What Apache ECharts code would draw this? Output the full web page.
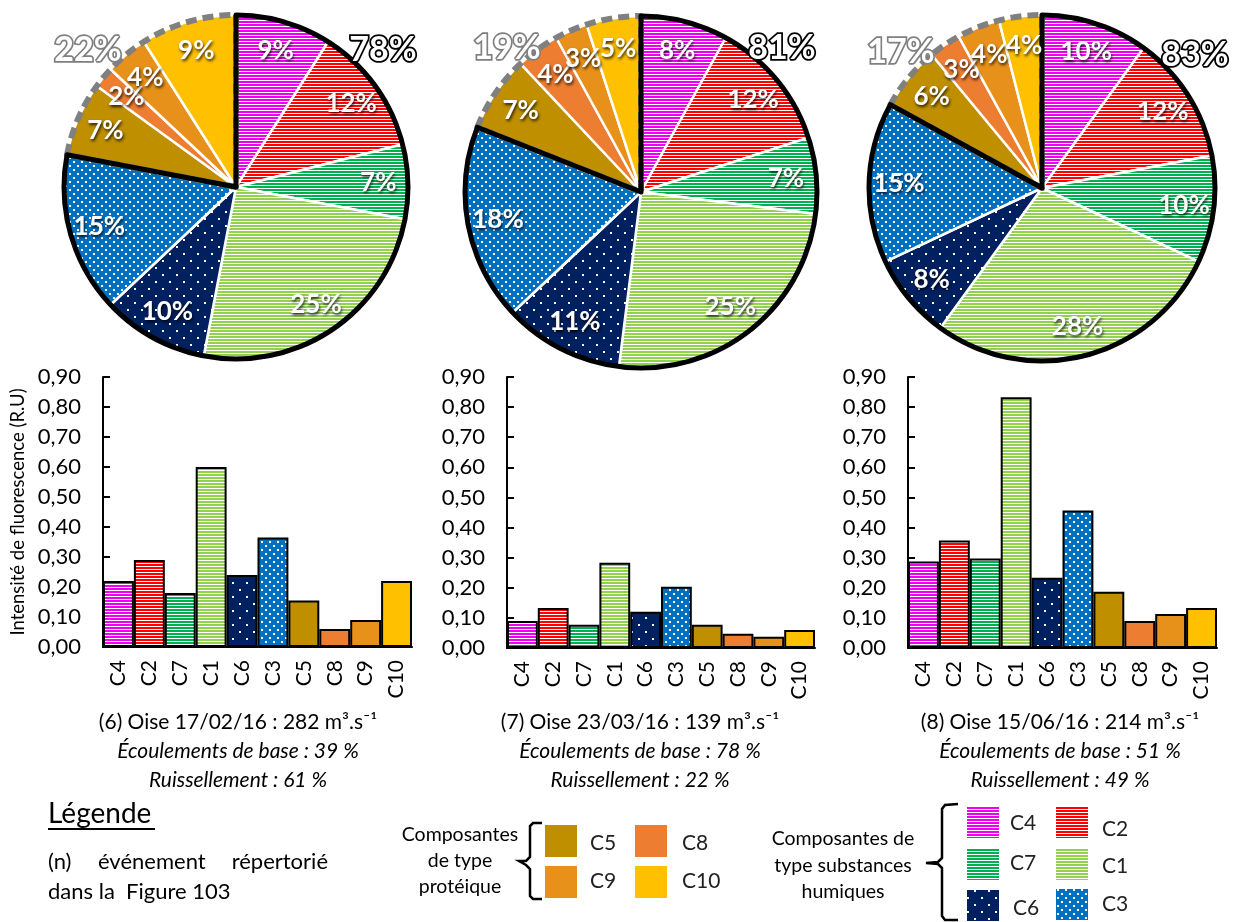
<!DOCTYPE html>
<html><head><meta charset="utf-8">
<script src="https://cdn.jsdelivr.net/npm/echarts@6/dist/echarts.min.js"></script>
<style>html,body{margin:0;padding:0;background:#fff}#c{width:1234px;height:922px}</style>
</head><body><div id="c"></div>
<script>
// ---------- DATA ----------
const components = ['C4','C2','C7','C1','C6','C3','C5','C8','C9','C10'];
const humicCount = 6; // first 6 = humic-type, last 4 = protein-type
const pie6 = [9,12,7,25,10,15,7,2,4,9];
const pie7 = [8,12,7,25,11,18,7,4,3,5];
const pie8 = [10,12,10,28,8,15,6,3,4,4];
const bar6 = [0.22,0.29,0.18,0.60,0.24,0.365,0.155,0.06,0.09,0.22];
const bar7 = [0.09,0.133,0.077,0.283,0.12,0.203,0.077,0.047,0.037,0.06];
const bar8 = [0.287,0.357,0.297,0.833,0.233,0.457,0.187,0.09,0.113,0.133];
const humicTotals = ['78%','81%','83%'];
const proteinTotals = ['22%','19%','17%'];
const yMin = 0, yMax = 0.9, yStep = 0.1;
const yTitle = 'Intensité de fluorescence (R.U)';
const captionTitles = ['(6) Oise 17/02/16 : 282 m³.s⁻¹','(7) Oise 23/03/16 : 139 m³.s⁻¹','(8) Oise 15/06/16 : 214 m³.s⁻¹'];
const captionBase = ['Écoulements de base : 39 %','Écoulements de base : 78 %','Écoulements de base : 51 %'];
const captionRuis = ['Ruissellement : 61 %','Ruissellement : 22 %','Ruissellement : 49 %'];

// ---------- STYLES ----------
const baseColors = {C4:'#f000f0',C2:'#ff0000',C7:'#00b050',C1:'#92d050',C6:'#002060',C3:'#0070c0',C5:'#bf8f00',C8:'#ed7d31',C9:'#e8911a',C10:'#ffc000'};
function stripes(color){
  const c=document.createElement('canvas'); c.width=4; c.height=3;
  const g=c.getContext('2d'); g.fillStyle='#fff'; g.fillRect(0,0,4,3);
  g.fillStyle=color; g.fillRect(0,0,4,2);
  return {image:c, repeat:'repeat'};
}
function dots(color, s, d){
  const c=document.createElement('canvas'); c.width=2*s; c.height=2*s;
  const g=c.getContext('2d'); g.fillStyle=color; g.fillRect(0,0,2*s,2*s);
  g.fillStyle='#fff'; g.fillRect(1,1,d,d); g.fillRect(s+1,s+1,d,d);
  return {image:c, repeat:'repeat'};
}
const fills = {
  C4:stripes(baseColors.C4), C2:stripes(baseColors.C2), C7:stripes(baseColors.C7), C1:stripes(baseColors.C1),
  C6:dots(baseColors.C6,7,2), C3:dots(baseColors.C3,4,2),
  C5:baseColors.C5, C8:baseColors.C8, C9:baseColors.C9, C10:baseColors.C10
};
const FONT='Lato';

const pies = [
  {vals:pie6, center:[236,187], r:172},
  {vals:pie7, center:[641,192], r:176},
  {vals:pie8, center:[1042,188], r:173}
];
const grids = [
  {left:103, top:377, width:309, height:270},
  {left:507, top:377, width:308, height:271},
  {left:908, top:377, width:309, height:271}
];
const bars = [bar6, bar7, bar8];

const series = [];
pies.forEach((p)=>{
  const humic = p.vals.slice(0,humicCount).reduce((a,b)=>a+b,0);
  const prot = p.vals.slice(humicCount).reduce((a,b)=>a+b,0);
  const common = {type:'pie', center:p.center, startAngle:90, clockwise:true, silent:true, avoidLabelOverlap:false,
    labelLine:{show:false}, emphasis:{disabled:true}, labelLayout:{hideOverlap:false}, minShowLabelAngle:0};
  series.push(Object.assign({}, common, {
    radius:p.r, z:2,
    data:p.vals.map((v,i)=>({name:components[i], value:v, itemStyle:{color:fills[components[i]]}})),
    itemStyle:{borderColor:'#fff', borderWidth:2.5},
    label:{show:false}
  }));
  series.push(Object.assign({}, common, {
    radius:p.r, z:3, label:{show:false},
    data:[{value:humic, itemStyle:{color:'rgba(0,0,0,0)', borderWidth:0}},
          {value:prot, itemStyle:{color:'rgba(0,0,0,0)', borderColor:'#808080', borderWidth:6, borderType:[11,6]}}]
  }));
  series.push(Object.assign({}, common, {
    radius:p.r, z:4, label:{show:false},
    data:[{value:humic, itemStyle:{color:'rgba(0,0,0,0)', borderColor:'#000', borderWidth:5}},
          {value:prot, itemStyle:{color:'rgba(0,0,0,0)', borderWidth:0}}]
  }));
  series.push(Object.assign({}, common, {
    radius:[0, p.r*1.62], z:5,
    itemStyle:{color:'rgba(0,0,0,0)', borderWidth:0},
    data:p.vals.map((v,i)=>({name:components[i], value:v})),
    label:{show:true, position:'inside', formatter:(pp)=>pp.value+'%', color:'#fff', fontFamily:FONT, fontWeight:'bold', fontSize:26,
      textShadowColor:'rgba(0,0,0,0.8)', textShadowBlur:3, textShadowOffsetX:1, textShadowOffsetY:2}
  }));
});

const xAxis=[], yAxis=[];
grids.forEach((g,i)=>{
  xAxis.push({type:'category', gridIndex:i, data:components,
    axisLine:{lineStyle:{color:'#000', width:2}}, axisTick:{show:false},
    axisLabel:{rotate:90, fontSize:21, color:'#000', fontFamily:FONT, margin:13}});
  yAxis.push({type:'value', gridIndex:i, min:yMin, max:yMax, interval:yStep,
    name: i===0 ? yTitle : '', nameLocation:'middle', nameGap:75,
    nameTextStyle:{fontSize:18.5, color:'#000', fontFamily:FONT},
    axisLine:{show:true, lineStyle:{color:'#000', width:2}},
    axisTick:{show:true, inside:true, length:7, lineStyle:{color:'#000', width:2}},
    splitLine:{show:false},
    axisLabel:{fontSize:22, color:'#000', fontFamily:FONT, margin:22, formatter:(v)=>v.toFixed(2).replace('.',',')}});
  series.push({type:'bar', xAxisIndex:i, yAxisIndex:i, barCategoryGap:'0%', silent:true,
    itemStyle:{borderColor:'#000', borderWidth:2},
    data:bars[i].map((v,j)=>({value:v, itemStyle:{color:fills[components[j]]}}))});
});

function txt(x,y,text,font,extra){
  return Object.assign({type:'text', x:x, y:y, z:10, style:Object.assign({text:text, font:font, fill:'#000',
    align:'center', verticalAlign:'middle', textAlign:'center', textVerticalAlign:'middle'}, extra||{})});
}
const graphic=[];
// total labels
const totalPos = [[[383,50],[88,50]],[[782,48],[507,48]],[[1195,55],[901,52]]];
totalPos.forEach((tp,i)=>{
  graphic.push(txt(tp[0][0],tp[0][1],humicTotals[i],'bold 34px '+FONT,{fill:'#fff',stroke:'#000',lineWidth:3.6}));
  graphic.push(txt(tp[1][0],tp[1][1],proteinTotals[i],'bold 34px '+FONT,{fill:'#fff',stroke:'#808080',lineWidth:3.4}));
});
// captions
const capX=[238,640,1060];
capX.forEach((x,i)=>{
  graphic.push(txt(x,722,captionTitles[i],'21px '+FONT));
  graphic.push(txt(x,751,captionBase[i],'italic 21px '+FONT));
  graphic.push(txt(x,780,captionRuis[i],'italic 21px '+FONT));
});
// Légende block
graphic.push(txt(48,814,'Légende','28px '+FONT,{align:'left',textAlign:'left'}));
graphic.push({type:'line', z:10, shape:{x1:48,y1:829,x2:155,y2:829}, style:{stroke:'#000', lineWidth:2}});
graphic.push(txt(48,862,'(n)','22px '+FONT,{align:'left',textAlign:'left'}));
graphic.push(txt(98,862,'événement','22px '+FONT,{align:'left',textAlign:'left'}));
graphic.push(txt(328,862,'répertorié','22px '+FONT,{align:'right',textAlign:'right'}));
graphic.push(txt(48,892,'dans la  Figure 103','22px '+FONT,{align:'left',textAlign:'left'}));
// protein legend
['Composantes','de type','protéique'].forEach((t,k)=>graphic.push(txt(460,[835,861,887][k],t,'19.5px '+FONT)));
graphic.push({type:'polyline', z:10, shape:{points:[[542,823],[533,823],[530,826],[530,857],[526,861],[519,861],[526,865],[530,869],[530,896],[533,899],[542,899]]}, style:{stroke:'#000', lineWidth:2.5, fill:null}});
const protLeg=[['C5',545,825,590,843],['C8',635,825,682,843],['C9',545,866,590,881],['C10',635,866,682,881]];
protLeg.forEach(l=>{
  graphic.push({type:'rect', z:10, shape:{x:l[1],y:l[2],width:32,height:32}, style:{fill:fills[l[0]]}});
  graphic.push(txt(l[3],l[4],l[0],'21px '+FONT,{align:'left',textAlign:'left',fill:'#222'}));
});
// humic legend
['Composantes de','type substances','humiques'].forEach((t,k)=>graphic.push(txt(843,[839,866,892][k],t,'19.5px '+FONT)));
graphic.push({type:'polyline', z:10, shape:{points:[[958,804],[945,805],[942,809],[942,858],[938,862],[926,863],[938,864],[942,868],[942,916],[945,920],[958,920]]}, style:{stroke:'#000', lineWidth:2.5, fill:null}});
const humLeg=[['C4',967,807,1010,823],['C2',1056,807,1102,829],['C7',967,849,1010,863],['C1',1056,849,1102,866],['C6',967,890,1013,908],['C3',1056,889,1102,904]];
humLeg.forEach(l=>{
  graphic.push({type:'rect', z:10, shape:{x:l[1],y:l[2],width:32,height:31}, style:{fill:fills[l[0]]}});
  graphic.push(txt(l[3],l[4],l[0],'21px '+FONT,{align:'left',textAlign:'left',fill:'#222'}));
});

const chart = echarts.init(document.getElementById('c'), null, {renderer:'canvas'});
chart.setOption({
  animation:false,
  backgroundColor:'#fff',
  textStyle:{fontFamily:FONT},
  grid:grids,
  xAxis:xAxis, yAxis:yAxis,
  series:series,
  graphic:graphic
});
</script></body></html>
